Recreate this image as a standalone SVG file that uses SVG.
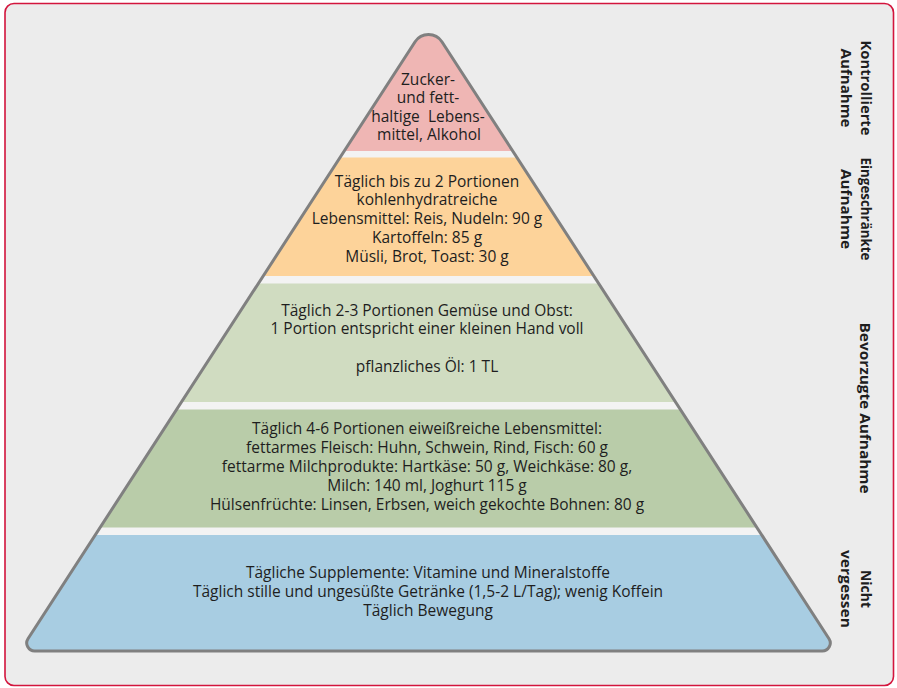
<svg xmlns="http://www.w3.org/2000/svg" width="897" height="688" viewBox="0 0 897 688">
<style>
.t{font-family:"Open Sans","Noto Sans","Liberation Sans",sans-serif;font-size:15.5px;fill:#1e1e1e;text-anchor:middle}
.lbl{font-family:"Open Sans","Noto Sans","Liberation Sans",sans-serif;font-size:15px;font-weight:bold;fill:#1e1e1e;text-anchor:middle}
</style>
<defs>
<path id="tri" d="M415.1,41.7 A16,16 0 0 1 441.9,41.7 L829,638.7 A8,8 0 0 1 822.3,651 L34.7,651 A8,8 0 0 1 28,638.7 Z"/>
<clipPath id="clip"><use href="#tri"/></clipPath>
</defs>
<rect x="5" y="3.5" width="888.5" height="682" rx="9" fill="#ececec" stroke="#d3153d" stroke-width="1.6"/>
<g id="pyramid-bands" clip-path="url(#clip)">
<rect x="0" y="0" width="897" height="688" fill="#f3f3f3"/>
<rect id="band-1" x="0" y="0" width="897" height="151" fill="#efb6b4"/>
<rect id="band-2" x="0" y="157.5" width="897" height="118.5" fill="#fdd39a"/>
<rect id="band-3" x="0" y="283.5" width="897" height="118.5" fill="#d0dcc1"/>
<rect id="band-4" x="0" y="409.5" width="897" height="118" fill="#b9cca9"/>
<rect id="band-5" x="0" y="535" width="897" height="130" fill="#a8cde2"/>
</g>
<use id="outline" href="#tri" fill="none" stroke="#808080" stroke-width="3"/>
<g id="level-1">
<text class="t" x="428" y="85">Zucker-</text>
<text class="t" x="428" y="103.3">und fett-</text>
<text class="t" x="428" y="121.6" xml:space="preserve">haltige  Lebens-</text>
<text class="t" x="429" y="140">mittel, Alkohol</text>
</g>
<g id="level-2">
<text class="t" x="427" y="186.5">Täglich bis zu 2 Portionen</text>
<text class="t" x="427" y="205.3">kohlenhydratreiche</text>
<text class="t" x="427" y="224.1">Lebensmittel: Reis, Nudeln: 90 g</text>
<text class="t" x="427" y="242.9">Kartoffeln: 85 g</text>
<text class="t" x="427" y="261.7">Müsli, Brot, Toast: 30 g</text>
</g>
<g id="level-3">
<text class="t" x="427" y="315.5">Täglich 2-3 Portionen Gemüse und Obst:</text>
<text class="t" x="427" y="334.2">1 Portion entspricht einer kleinen Hand voll</text>
<text class="t" x="427" y="371.6">pflanzliches Öl: 1 TL</text>
</g>
<g id="level-4">
<text class="t" x="427" y="434.3">Täglich 4-6 Portionen eiweißreiche Lebensmittel:</text>
<text class="t" x="427" y="453.2">fettarmes Fleisch: Huhn, Schwein, Rind, Fisch: 60 g</text>
<text class="t" x="427" y="472.1">fettarme Milchprodukte: Hartkäse: 50 g, Weichkäse: 80 g,</text>
<text class="t" x="427" y="491">Milch: 140 ml, Joghurt 115 g</text>
<text class="t" x="427" y="510">Hülsenfrüchte: Linsen, Erbsen, weich gekochte Bohnen: 80 g</text>
</g>
<g id="level-5">
<text class="t" x="428" y="578">Tägliche Supplemente: Vitamine und Mineralstoffe</text>
<text class="t" x="428" y="596.8">Täglich stille und ungesüßte Getränke (1,5-2 L/Tag); wenig Koffein</text>
<text class="t" x="428" y="615.6">Täglich Bewegung</text>
</g>
<g id="labels">
<g id="label-1" transform="translate(856,88) rotate(90)">
<text class="lbl" x="0" y="-4.5" textLength="95" lengthAdjust="spacingAndGlyphs">Kontrollierte</text>
<text class="lbl" x="0" y="15.5" textLength="79" lengthAdjust="spacingAndGlyphs">Aufnahme</text>
</g>
<g id="label-2" transform="translate(856,209) rotate(90)">
<text class="lbl" x="0" y="-4.5" textLength="103" lengthAdjust="spacingAndGlyphs">Eingeschränkte</text>
<text class="lbl" x="0" y="15.5" textLength="80" lengthAdjust="spacingAndGlyphs">Aufnahme</text>
</g>
<g id="label-3" transform="translate(865,408) rotate(90)">
<text class="lbl" x="0" y="5.5" textLength="171" lengthAdjust="spacingAndGlyphs">Bevorzugte Aufnahme</text>
</g>
<g id="label-4" transform="translate(856,589) rotate(90)">
<text class="lbl" x="0" y="-4.5" textLength="38" lengthAdjust="spacingAndGlyphs">Nicht</text>
<text class="lbl" x="0" y="15.5" textLength="78" lengthAdjust="spacingAndGlyphs">vergessen</text>
</g>
</g>
</svg>
